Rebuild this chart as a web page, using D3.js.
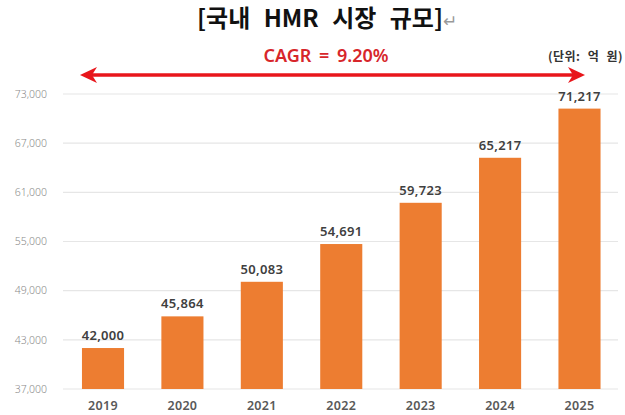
<!DOCTYPE html>
<html>
<head>
<meta charset="utf-8">
<script src="https://cdn.jsdelivr.net/npm/d3@7/dist/d3.min.js"></script>
<style>
  html, body { margin: 0; padding: 0; background: #fff; }
  svg { display: block; }
</style>
</head>
<body>
<svg id="chart" width="625" height="415"></svg>
<script>
const years = ["2019", "2020", "2021", "2022", "2023", "2024", "2025"];
const values = [42000, 45864, 50083, 54691, 59723, 65217, 71217];
const yTicks = [37000, 43000, 49000, 55000, 61000, 67000, 73000];
const titleText = "[국내 HMR 시장 규모]";
const cagrText = "CAGR = 9.20%";
const unitText = "(단위: 억 원)";

(function () {
const svg = d3.select("#chart");
const pLeft = 63.3, pRight = 619.2, pTop = 94, pBottom = 389;

const x = d3.scaleBand().domain(years).range([pLeft, pRight])
  .paddingInner(0.47).paddingOuter(0.235);
const y = d3.scaleLinear().domain([37000, 73000]).range([pBottom, pTop]);
const fmt = d3.format(",");

// gridlines
svg.append("g").selectAll("line").data(yTicks).join("line")
  .attr("x1", 63).attr("x2", 618)
  .attr("y1", d => y(d)).attr("y2", d => y(d))
  .attr("stroke", "#e6e6e6").attr("stroke-width", 1.2);

// y tick labels
svg.append("g").selectAll("text").data(yTicks).join("text")
  .attr("x", 47).attr("y", d => y(d) + 3.8)
  .attr("text-anchor", "end")
  .attr("font-family", "'Noto Sans', sans-serif")
  .attr("font-size", 10.5)
  .attr("font-weight", 300)
  .attr("fill", "#8a8a8a")
  .text(d => fmt(d));

// bars
svg.append("g").selectAll("rect").data(values).join("rect")
  .attr("x", (d, i) => x(years[i]))
  .attr("width", x.bandwidth())
  .attr("y", d => y(d))
  .attr("height", d => pBottom - y(d))
  .attr("fill", "#ED7D31");

// value labels
svg.append("g").selectAll("text").data(values).join("text")
  .attr("x", (d, i) => x(years[i]) + x.bandwidth() / 2)
  .attr("y", d => y(d) - 8)
  .attr("text-anchor", "middle")
  .attr("font-family", "'Noto Sans', sans-serif")
  .attr("font-size", 13)
  .attr("font-weight", 600)
  .attr("letter-spacing", 0.3)
  .attr("fill", "#404040")
  .text(d => fmt(d));

// x labels
svg.append("g").selectAll("text").data(years).join("text")
  .attr("x", d => x(d) + x.bandwidth() / 2)
  .attr("y", 410)
  .attr("text-anchor", "middle")
  .attr("font-family", "'Noto Sans', sans-serif")
  .attr("font-size", 12.5)
  .attr("font-weight", 600)
  .attr("letter-spacing", 0.3)
  .attr("fill", "#595959")
  .text(d => d);

// title
const title = svg.append("text")
  .attr("x", 327).attr("y", 27)
  .attr("text-anchor", "middle")
  .attr("font-family", "'Noto Sans CJK KR', sans-serif")
  .attr("font-size", 24)
  .attr("font-weight", 700)
  .attr("fill", "#111")
  .attr("xml:space", "preserve");
title.append("tspan").attr("word-spacing", 8).text(titleText);
title.append("tspan").attr("font-size", 17).attr("font-weight", 400)
  .attr("fill", "#999").text("↵");

// CAGR text
svg.append("text")
  .attr("x", 326).attr("y", 62)
  .attr("text-anchor", "middle")
  .attr("font-family", "'Noto Sans', sans-serif")
  .attr("font-size", 18)
  .attr("font-weight", 600)
  .attr("word-spacing", 3)
  .attr("fill", "#D7262B")
  .text(cagrText);

// double arrow
const ay = 75, ax1 = 80, ax2 = 585, ah = 17, aw = 8;
svg.append("line")
  .attr("x1", ax1 + 6).attr("x2", ax2 - 6)
  .attr("y1", ay).attr("y2", ay)
  .attr("stroke", "#E8161B").attr("stroke-width", 3.5);
svg.append("path")
  .attr("d", `M${ax1},${ay} L${ax1 + ah},${ay - aw} L${ax1 + ah - 5},${ay} L${ax1 + ah},${ay + aw} Z`)
  .attr("fill", "#E8161B");
svg.append("path")
  .attr("d", `M${ax2},${ay} L${ax2 - ah},${ay - aw} L${ax2 - ah + 5},${ay} L${ax2 - ah},${ay + aw} Z`)
  .attr("fill", "#E8161B");

// unit
svg.append("text")
  .attr("x", 623).attr("y", 61)
  .attr("text-anchor", "end")
  .attr("font-family", "'Noto Sans CJK KR', sans-serif")
  .attr("font-size", 12)
  .attr("font-weight", 700)
  .attr("word-spacing", 4)
  .attr("letter-spacing", 0.5)
  .attr("fill", "#333")
  .text(unitText);
})();
</script>
</body>
</html>
